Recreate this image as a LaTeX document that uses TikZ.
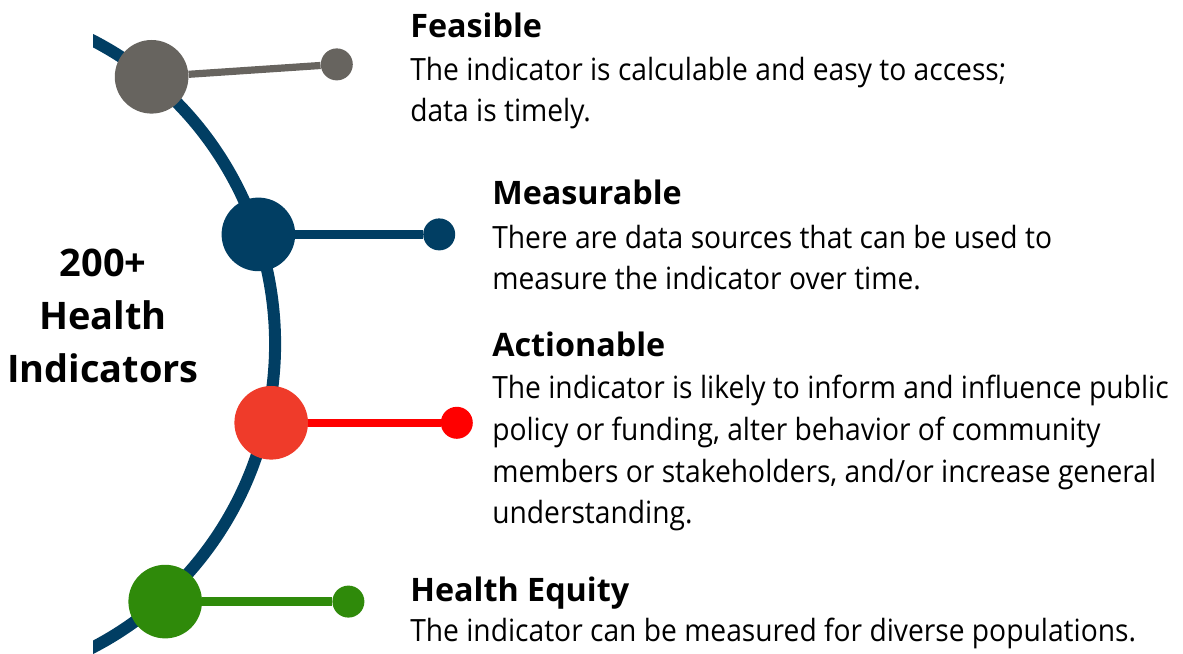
\documentclass[tikz,border=0pt]{standalone}
\usepackage{fontspec}
\setmainfont{Open Sans}
\newfontfamily\bodyfont[FakeStretch=0.92]{Open Sans}
\definecolor{featgray}{HTML}{67645F}
\definecolor{navy}{HTML}{013E63}
\definecolor{actred}{HTML}{EF3B2A}
\definecolor{pure}{HTML}{FF0000}
\definecolor{eqgreen}{HTML}{2F8A0A}
\begin{document}
\begin{tikzpicture}[
        bigdot/.style={circle, inner sep=0pt, minimum size=1.84cm},
        enddot/.style={circle, inner sep=0pt, minimum size=0.8cm},
        spoke/.style={line width=0.21cm},
        head/.style={anchor=base west, inner sep=0pt, font=\fontsize{23}{30}\selectfont\bfseries},
        body/.style={anchor=base west, inner sep=0pt, align=left, font=\bodyfont\fontsize{21.8}{29.8}\selectfont}
    ]
        \useasboundingbox (0,0) rectangle (29.575,-16.35);
        % Backbone arc
        \begin{scope}
            \clip (2.325,0) rectangle (10,-16.35);
            \draw[navy, line width=0.3cm] (-1.425,-8.6) ++(70:8.3cm and 8.5cm)
                arc[start angle=70, end angle=-70, x radius=8.3cm, y radius=8.5cm];
        \end{scope}

        % Criteria dots
        \node[bigdot, fill=featgray] (feas) at (3.79,-1.92) {};
        \node[enddot, fill=featgray] (feasend) at (8.42,-1.61) {};
        \node[bigdot, fill=navy] (meas) at (6.46,-5.86) {};
        \node[enddot, fill=navy] (measend) at (10.98,-5.86) {};
        \node[bigdot, fill=actred] (act) at (6.78,-10.57) {};
        \node[enddot, fill=pure] (actend) at (11.42,-10.57) {};
        \node[bigdot, fill=eqgreen] (equity) at (4.13,-15.04) {};
        \node[enddot, fill=eqgreen] (equityend) at (8.71,-15.04) {};

        \draw[spoke, featgray, line width=0.18cm] (feas) -- (feasend);
        \draw[spoke, navy] (meas) -- (measend);
        \draw[spoke, pure] (act) -- (actend);
        \draw[spoke, eqgreen] (equity) -- (equityend);

        % Centre label
        \node[align=center, inner sep=0pt, font=\fontsize{27}{37.6}\selectfont\bfseries] (total) at (2.575,-7.9) {200+\\Health\\Indicators};

        % Texts
        \node[head] (feastitle) at (10.25,-0.95) {Feasible};
        \node[body] (feastext) at (10.25,-3.05) {The indicator is calculable and easy to access;\\data is timely.};
        \node[head] (meastitle) at (12.3,-5.12) {Measurable};
        \node[body] (meastext) at (12.3,-7.25) {There are data sources that can be used to\\measure the indicator over time.};
        \node[head] (acttitle) at (12.3,-8.92) {Actionable};
        \node[body] (acttext) at (12.3,-13.1) {The indicator is likely to inform and influence public\\policy or funding, alter behavior of community\\members or stakeholders, and/or increase general\\understanding.};
        \node[head] (equitytitle) at (10.25,-15.05) {Health Equity};
        \node[body] (equitytext) at (10.25,-16.05) {The indicator can be measured for diverse populations.};
    \end{tikzpicture}
\end{document}
